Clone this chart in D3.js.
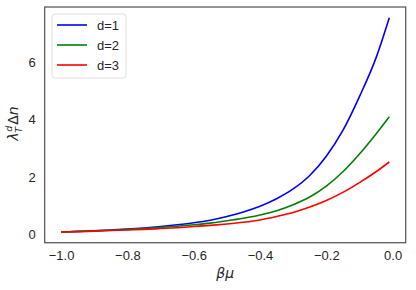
<!DOCTYPE html>
<html>
<head>
<meta charset="utf-8">
<script src="https://cdn.jsdelivr.net/npm/d3@7"></script>
<style>
  body { margin: 0; background: #fff; }
  text { font-family: "Liberation Sans", Arial, sans-serif; fill: #262626; }
</style>
</head>
<body>
<svg id="svg1" width="416" height="290"></svg>
<script>
// data
var betaMu = [-1.00, -0.95, -0.90, -0.85, -0.80, -0.75, -0.70, -0.65, -0.60, -0.55, -0.50,
              -0.45, -0.40, -0.35, -0.30, -0.25, -0.20, -0.15, -0.10, -0.05, -0.01];
var d1 = [0.08, 0.10, 0.12, 0.15, 0.18, 0.22, 0.27, 0.33, 0.40, 0.49, 0.62,
          0.78, 0.98, 1.24, 1.58, 2.05, 2.72, 3.62, 4.80, 6.15, 7.55];
var d2 = [0.08, 0.10, 0.12, 0.14, 0.17, 0.20, 0.24, 0.28, 0.33, 0.39, 0.47,
          0.56, 0.67, 0.82, 1.03, 1.30, 1.68, 2.18, 2.80, 3.50, 4.10];
var d3v = [0.08, 0.09, 0.11, 0.13, 0.15, 0.17, 0.20, 0.23, 0.27, 0.31, 0.36,
           0.42, 0.50, 0.62, 0.76, 0.95, 1.18, 1.46, 1.80, 2.18, 2.52];
var seriesNames = ["d=1", "d=2", "d=3"];
var seriesColors = ["blue", "green", "red"];
var xTicks = [-1.0, -0.8, -0.6, -0.4, -0.2, 0.0];
var yTicks = [0, 2, 4, 6];

//set up constants
var plotLeft = 44.7, plotRight = 405.7, plotTop = 7, plotBottom = 242.7;

var svg = d3.select("#svg1");

// matplotlib style 5% margins
var xSpan = d3.extent(betaMu);
var xPad = (xSpan[1] - xSpan[0]) * 0.05;
var allY = d1.concat(d2, d3v);
var ySpan = d3.extent(allY);
var yPad = (ySpan[1] - ySpan[0]) * 0.05;

var xScale = d3.scaleLinear()
    .domain([xSpan[0] - xPad, xSpan[1] + xPad])
    .range([plotLeft, plotRight]);
var yScale = d3.scaleLinear()
    .domain([ySpan[0] - yPad, ySpan[1] + yPad])
    .range([plotBottom, plotTop]);

// axes (no tick marks, seaborn white look)
var xAxis = d3.axisBottom(xScale).tickValues(xTicks).tickSize(0).tickPadding(8)
    .tickFormat(function(d) { return d3.format(".1f")(d).replace("-", "\u2212"); });
var gx = svg.append("g")
    .attr("transform", "translate(0," + plotBottom + ")")
    .call(xAxis);
gx.select(".domain").remove();
gx.selectAll("text").style("font-size", "13px").style("font-family", "'Liberation Sans', Arial, sans-serif").attr("fill", "#262626");

var yAxis = d3.axisLeft(yScale).tickValues(yTicks).tickSize(0).tickPadding(9);
var gy = svg.append("g")
    .attr("transform", "translate(" + plotLeft + ",0)")
    .call(yAxis);
gy.select(".domain").remove();
gy.selectAll("text").style("font-size", "13px").style("font-family", "'Liberation Sans', Arial, sans-serif").attr("fill", "#262626");

// lines
var series = [d1, d2, d3v];
var line = d3.line()
    .x(function(d, i) { return xScale(betaMu[i]); })
    .y(function(d) { return yScale(d); })
    .curve(d3.curveMonotoneX);

series.forEach(function(s, k) {
    svg.append("path")
        .datum(s)
        .attr("d", line)
        .attr("fill", "none")
        .attr("stroke", seriesColors[k])
        .attr("stroke-width", 1.6);
});

// frame
svg.append("rect")
    .attr("x", plotLeft).attr("y", plotTop)
    .attr("width", plotRight - plotLeft).attr("height", plotBottom - plotTop)
    .attr("fill", "none")
    .attr("stroke", "#555")
    .attr("stroke-width", 1.25);

// legend
var lg = svg.append("g").attr("transform", "translate(52,14)");
lg.append("rect")
    .attr("width", 74).attr("height", 64)
    .attr("rx", 3)
    .attr("fill", "#fff")
    .attr("fill-opacity", 0.8)
    .attr("stroke", "#d6d6d6")
    .attr("stroke-width", 0.8);
seriesNames.forEach(function(n, k) {
    var yy = 11 + k * 20;
    lg.append("line")
        .attr("x1", 5).attr("x2", 35)
        .attr("y1", yy).attr("y2", yy)
        .attr("stroke", seriesColors[k])
        .attr("stroke-width", 1.6);
    lg.append("text")
        .attr("x", 45).attr("y", yy)
        .attr("dy", "0.35em")
        .style("font-size", "13px")
        .text(n);
});

// axis labels
svg.append("text")
    .attr("x", (plotLeft + plotRight) / 2)
    .attr("y", 278)
    .attr("text-anchor", "middle")
    .style("font-size", "14px")
    .style("font-family", "'DejaVu Sans', sans-serif")
    .style("font-style", "italic")
    .text("\u03b2\u03bc");

var yl = svg.append("g")
    .attr("transform", "translate(18," + ((plotTop + plotBottom) / 2) + ") rotate(-90)");
yl.append("text")
    .attr("x", -16).attr("y", 0)
    .style("font-size", "14px")
    .style("font-family", "'DejaVu Sans', sans-serif")
    .style("font-style", "italic")
    .text("\u03bb");
yl.append("text")
    .attr("x", -7).attr("y", -6)
    .style("font-size", "9.5px")
    .style("font-family", "'DejaVu Sans', sans-serif")
    .style("font-style", "italic")
    .text("d");
yl.append("text")
    .attr("x", -8).attr("y", 4)
    .style("font-size", "9.5px")
    .style("font-family", "'DejaVu Sans', sans-serif")
    .style("font-style", "italic")
    .text("T");
yl.append("text")
    .attr("x", 0).attr("y", 0)
    .style("font-size", "14px")
    .style("font-family", "'DejaVu Sans', sans-serif")
    .text("\u0394")
  .append("tspan")
    .style("font-style", "italic")
    .text("n");
</script>
</body>
</html>
